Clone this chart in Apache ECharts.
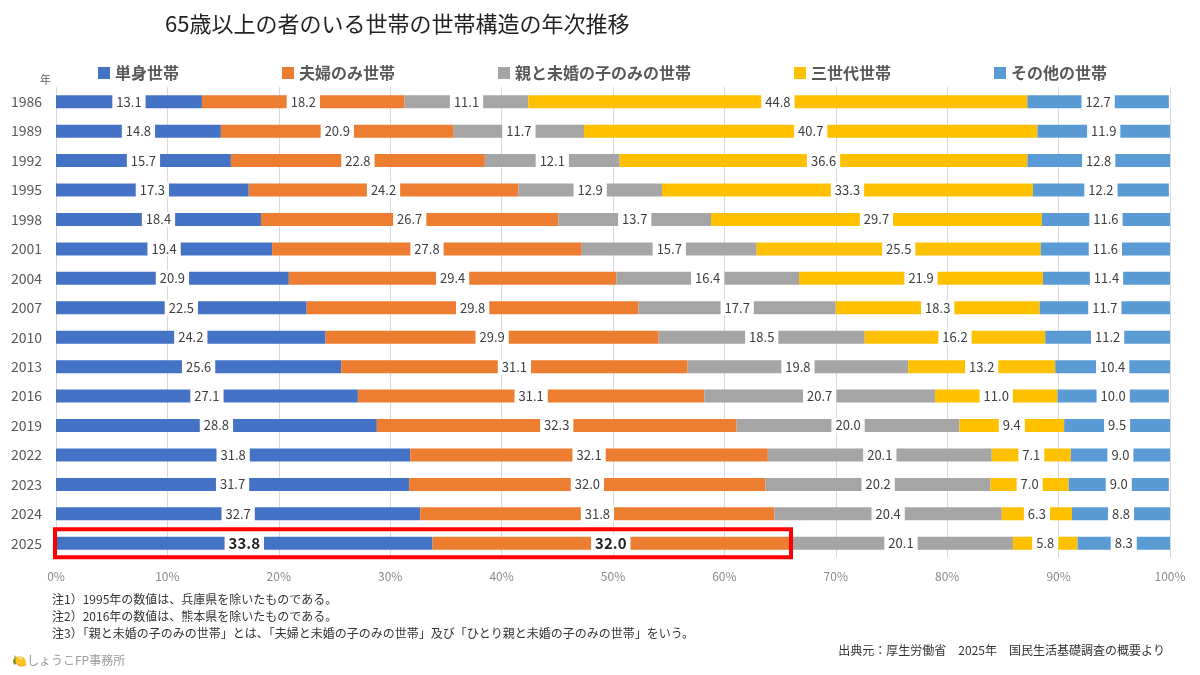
<!DOCTYPE html>
<html><head><meta charset="utf-8">
<script src="https://cdn.jsdelivr.net/npm/echarts@6/dist/echarts.min.js"></script>
<style>html,body{margin:0;background:#fff}#c{width:1200px;height:675px}</style>
</head><body><div id="c"></div>
<script>
const years = ['1986','1989','1992','1995','1998','2001','2004','2007','2010','2013','2016','2019','2022','2023','2024','2025'];
const single = [13.1,14.8,15.7,17.3,18.4,19.4,20.9,22.5,24.2,25.6,27.1,28.8,31.8,31.7,32.7,33.8];
const couple = [18.2,20.9,22.8,24.2,26.7,27.8,29.4,29.8,29.9,31.1,31.1,32.3,32.1,32.0,31.8,32.0];
const parentChild = [11.1,11.7,12.1,12.9,13.7,15.7,16.4,17.7,18.5,19.8,20.7,20.0,20.1,20.2,20.4,20.1];
const threeGen = [44.8,40.7,36.6,33.3,29.7,25.5,21.9,18.3,16.2,13.2,11.0,9.4,7.1,7.0,6.3,5.8];
const other = [12.7,11.9,12.8,12.2,11.6,11.6,11.4,11.7,11.2,10.4,10.0,9.5,9.0,9.0,8.8,8.3];
const names = ['単身世帯','夫婦のみ世帯','親と未婚の子のみの世帯','三世代世帯','その他の世帯'];
const colors = ['#4472C4','#ED7D31','#A5A5A5','#FFC000','#5B9BD5'];
const seriesData = [single,couple,parentChild,threeGen,other];

const chart = echarts.init(document.getElementById('c'));
const font = '"Noto Sans CJK JP", "Noto Sans", sans-serif';
chart.setOption({
  textStyle:{fontFamily:font},
  title:{text:'65歳以上の者のいる世帯の世帯構造の年次推移',left:160,top:8,textStyle:{fontSize:22,fontWeight:'normal',color:'#222',fontFamily:font}},
  legend:{top:60,left:93,itemGap:103,itemWidth:12,itemHeight:12,icon:'rect',
    textStyle:{fontSize:16,fontWeight:'bold',color:'#595959'}},
  grid:{left:56,right:30,top:87,bottom:117},
  xAxis:{type:'value',min:0,max:100,interval:10,
    axisLabel:{formatter:'{value}%',color:'#8a8a8a',fontSize:12,margin:12},
    splitLine:{lineStyle:{color:'#d9d9d9'}}},
  yAxis:{type:'category',data:years,inverse:true,
    axisLine:{show:false},axisTick:{show:false},
    axisLabel:{color:'#595959',fontSize:14,margin:14}},
  series:seriesData.map((d,i)=>({
    name:names[i],type:'bar',stack:'a',barWidth:13,
    itemStyle:{color:colors[i]},
    data:d.map((v,j)=>({value:v,label:(j===15&&i<2)?{fontWeight:'bold',color:'#222',fontSize:15}:undefined})),
    label:{show:true,position:'inside',formatter:p=>p.value.toFixed(1),
      backgroundColor:'#fff',padding:[1,4],color:'#404040',fontSize:13}
  })),
  graphic:[
    {type:'text',left:40,top:74,style:{text:'年',fill:'#595959',font:'11px '+font}},
    {type:'text',left:52,top:591,style:{text:'注1）1995年の数値は、兵庫県を除いたものである。\n注2）2016年の数値は、熊本県を除いたものである。\n注3）「親と未婚の子のみの世帯」とは、「夫婦と未婚の子のみの世帯」及び「ひとり親と未婚の子のみの世帯」をいう。',
      font:'12px '+font,fill:'#333',lineHeight:17}},
    {type:'text',right:35,top:644,style:{text:'出典元：厚生労働省　2025年　国民生活基礎調査の概要より',font:'12px '+font,fill:'#333'}},
    {type:'text',left:12,top:654,style:{text:'🍋しょうこFP事務所',font:'12px '+font,fill:'#999'}},
    {type:'rect',id:'box',shape:{x:0,y:0,width:0,height:0},style:{fill:'none',stroke:'#FF0000',lineWidth:4},z:100}
  ]
});
const p0 = chart.convertToPixel({xAxisIndex:0,yAxisIndex:0},[0,'2025']);
const p1 = chart.convertToPixel({xAxisIndex:0,yAxisIndex:0},[single[15]+couple[15],'2025']);
chart.setOption({graphic:[{id:'box',shape:{x:p0[0]-1,y:p0[1]-14,width:p1[0]-p0[0]+3,height:28}}]});
</script></body></html>
